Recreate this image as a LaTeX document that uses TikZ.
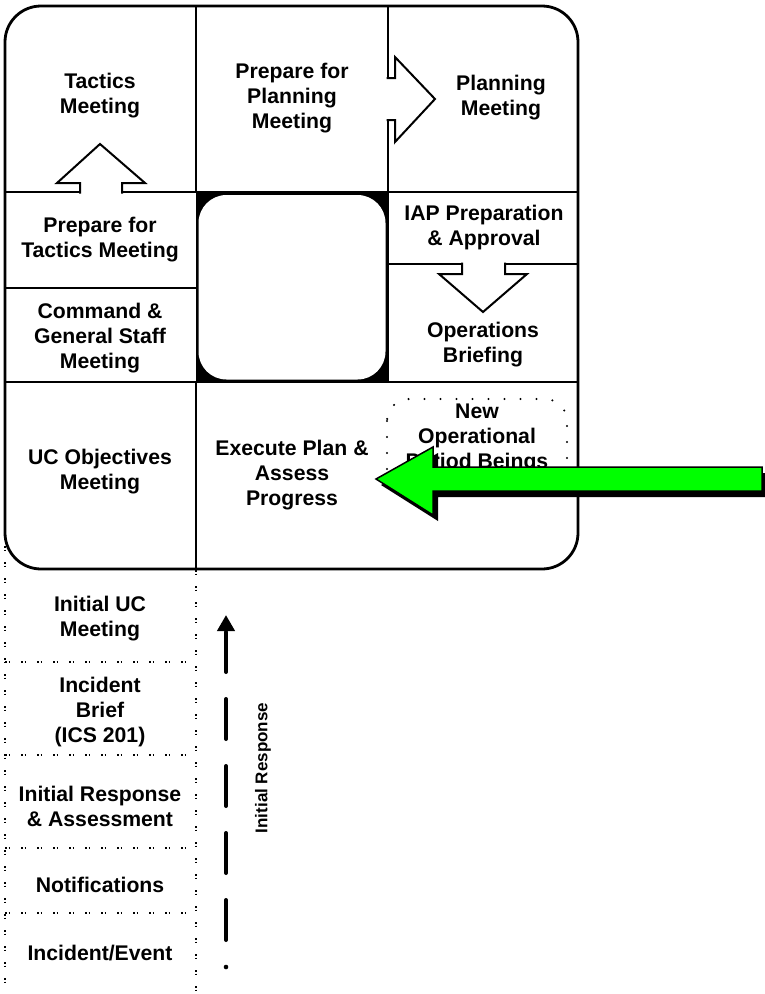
\documentclass[tikz,border=0pt]{standalone}
\usepackage{fontspec}
\setmainfont{Liberation Sans}
\usetikzlibrary{arrows.meta}
\definecolor{brightgreen}{RGB}{0,255,0}
\begin{document}
\begin{tikzpicture}[x=1pt,y=-1pt,
  lbl/.style={align=center,font=\fontsize{21.2}{25}\selectfont\bfseries,inner sep=0pt},
  gridline/.style={line width=2.8pt},
  hollow/.style={draw=black,fill=white,line width=2pt,line join=miter},
  pairdots/.style={line width=1.7pt,dash pattern=on 1.5pt off 2pt on 1.5pt off 11pt},
  rounddots/.style={line width=2.4pt,line cap=round,dash pattern=on 0pt off 16pt},
]
\useasboundingbox (0,0) rectangle (764,994);
\fill[white] (0,0) rectangle (764,994);

% initial response column (dotted)
\draw[pairdots] (5,530) -- (5,994);
\draw[pairdots] (196,570) -- (196,994);
\foreach \y in {662,755,848,913} \draw[pairdots] (5,\y) -- (196,\y);

% outer rounded frame
\draw[gridline,fill=white,rounded corners=36pt] (5,6) rectangle (578,569);

% centre block
\fill[black] (196,192) rectangle (388,382);
\fill[white,rounded corners=28pt] (198.5,195) rectangle (385.5,379.5);

% grid lines
\draw[gridline] (196,6) -- (196,192);
\draw[gridline] (196,382) -- (196,569);
\draw[gridline] (388,6) -- (388,382);
\draw[gridline] (5,192) -- (578,192);
\draw[gridline] (5,382) -- (578,382);
\draw[gridline] (5,288) -- (196,288);
\draw[gridline] (388,264) -- (578,264);

% hollow arrows
\draw[hollow] (80,193.5) -- (80,183) -- (57,183) -- (100,144) -- (145,183) -- (122,183) -- (122,193.5);
\draw[hollow] (386.5,78) -- (395,78) -- (395,57) -- (435,99) -- (395,142) -- (395,120) -- (386.5,120);
\draw[hollow] (462,262.5) -- (462,274) -- (439,274) -- (483,312) -- (527,274) -- (505,274) -- (505,262.5);

% cell texts
\node[lbl] (tactics) at (100,96) {Tactics\\Meeting};
\node[lbl] (prepplan) at (292,98) {Prepare for\\Planning\\Meeting};
\node[lbl] (planning) at (501,98) {Planning\\Meeting};
\node[lbl] (preptac) at (100,240) {Prepare for\\Tactics Meeting};
\node[lbl] (cgs) at (100,338) {Command \&\\General Staff\\Meeting};
\node[lbl] (iap) at (484,228) {IAP Preparation\\\& Approval};
\node[lbl] (ops) at (483,345) {Operations\\Briefing};
\node[lbl] (ucobj) at (100,472) {UC Objectives\\Meeting};
\node[lbl] (exec) at (292,475) {Execute Plan \&\\Assess\\Progress};

% initial response texts
\node[lbl] (iuc) at (100,619) {Initial UC\\Meeting};
\node[lbl] (brief) at (100,712) {Incident\\Brief\\(ICS 201)};
\node[lbl] (ira) at (100,806) {Initial Response\\\& Assessment};
\node[lbl] (notif) at (100,885) {Notifications};
\node[lbl] (event) at (100,953) {Incident/Event};

% new operational period
\draw[rounddots,rounded corners=22pt] (387,399) rectangle (567,495);
\node[lbl] (newop) at (477,438) {New\\Operational\\Period Beings};

% green arrow with shadow
\fill[black,shift={(5,6)}] (762,467) -- (433,467) -- (433,447) -- (376,479) -- (433,515) -- (433,491) -- (762,491) -- cycle;
\draw[fill=brightgreen,line width=1.5pt,line join=miter] (762,467) -- (433,467) -- (433,447) -- (376,479) -- (433,515) -- (433,491) -- (762,491) -- cycle;

% dashed initial response arrow
\coordinate (irs) at (226,940);
\coordinate (ire) at (226,615);
\fill (226,967) circle (2.3pt);
\draw[line width=4pt,line cap=round,dash pattern=on 40pt off 27pt,-{Triangle[length=16pt,width=17pt]}] (irs) -- (ire);
\node[font=\fontsize{17}{20}\selectfont\bfseries,rotate=90,inner sep=0pt] (irtext) at (263,768) {Initial Response};
\end{tikzpicture}
\end{document}
